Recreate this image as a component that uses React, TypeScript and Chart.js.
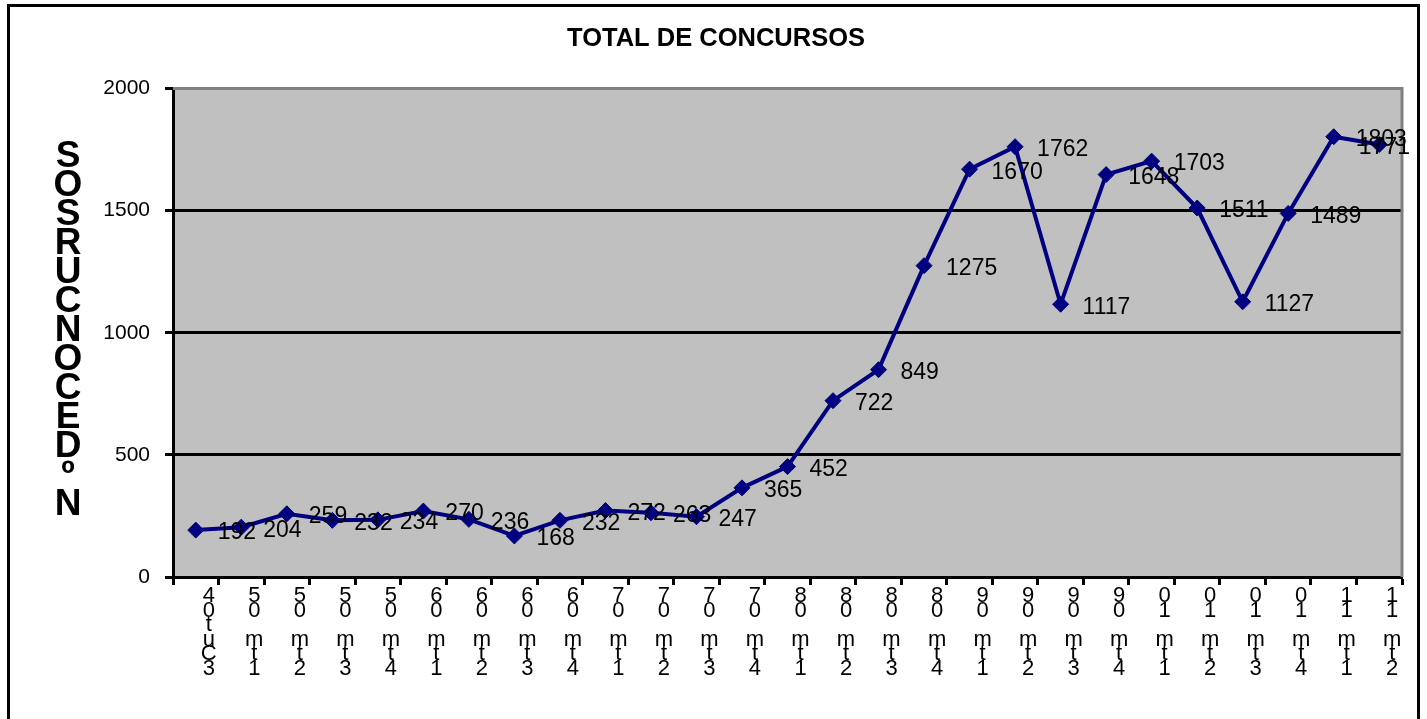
import React, { useEffect, useRef } from 'react';
import { Chart, registerables } from 'chart.js';

Chart.register(...registerables);

const chartTitle = 'TOTAL DE CONCURSOS';
const yAxisTitle = 'Nº DE CONCURSOS';

const categories: string[][] = [
  ['4', '0', 't', 'u', 'C', '3'],
  ['5', '0', '', 'm', 't', '1'],
  ['5', '0', '', 'm', 't', '2'],
  ['5', '0', '', 'm', 't', '3'],
  ['5', '0', '', 'm', 't', '4'],
  ['6', '0', '', 'm', 't', '1'],
  ['6', '0', '', 'm', 't', '2'],
  ['6', '0', '', 'm', 't', '3'],
  ['6', '0', '', 'm', 't', '4'],
  ['7', '0', '', 'm', 't', '1'],
  ['7', '0', '', 'm', 't', '2'],
  ['7', '0', '', 'm', 't', '3'],
  ['7', '0', '', 'm', 't', '4'],
  ['8', '0', '', 'm', 't', '1'],
  ['8', '0', '', 'm', 't', '2'],
  ['8', '0', '', 'm', 't', '3'],
  ['8', '0', '', 'm', 't', '4'],
  ['9', '0', '', 'm', 't', '1'],
  ['9', '0', '', 'm', 't', '2'],
  ['9', '0', '', 'm', 't', '3'],
  ['9', '0', '', 'm', 't', '4'],
  ['0', '1', '', 'm', 't', '1'],
  ['0', '1', '', 'm', 't', '2'],
  ['0', '1', '', 'm', 't', '3'],
  ['0', '1', '', 'm', 't', '4'],
  ['1', '1', '', 'm', 't', '1'],
  ['1', '1', '', 'm', 't', '2'],
];

const concursos: number[] = [
  192, 204, 259, 232, 234, 270, 236, 168, 232, 272, 263, 247, 365, 452,
  722, 849, 1275, 1670, 1762, 1117, 1648, 1703, 1511, 1127, 1489, 1803, 1771,
];

const yMin = 0;
const yMax = 2000;
const yStep = 500;

const FONT = '"Liberation Sans", Arial, sans-serif';

const plotBgPlugin = {
  id: 'plotBg',
  beforeDraw(chart: any) {
    const { ctx, chartArea: a } = chart;
    ctx.save();
    ctx.fillStyle = '#C0C0C0';
    ctx.fillRect(a.left, a.top, a.right - a.left, a.bottom - a.top);
    ctx.restore();
  },
  beforeDatasetsDraw(chart: any) {
    const { ctx, chartArea: a } = chart;
    ctx.save();
    ctx.strokeStyle = '#808080';
    ctx.lineWidth = 3;
    ctx.beginPath();
    ctx.moveTo(a.left, a.top);
    ctx.lineTo(a.right, a.top);
    ctx.lineTo(a.right, a.bottom);
    ctx.stroke();
    ctx.restore();
  },
};

const yTitlePlugin = {
  id: 'yTitleStacked',
  afterDraw(chart: any) {
    const { ctx, chartArea: a } = chart;
    const letters = yAxisTitle.replace(/ /g, '').split('');
    const spacing = 29;
    const cx = a.left - 105;
    const cy = (a.top + a.bottom) / 2 - 2;
    const n = letters.length;
    ctx.save();
    ctx.fillStyle = '#000';
    ctx.font = `bold 37px ${FONT}`;
    ctx.textAlign = 'center';
    ctx.textBaseline = 'middle';
    // reading bottom to top
    letters.forEach((ch, i) => {
      const y = cy + ((n - 1) / 2 - i) * spacing;
      ctx.fillText(ch, cx, y);
    });
    ctx.restore();
  },
};

const dataLabelPlugin = {
  id: 'dataLabels',
  afterDatasetsDraw(chart: any) {
    const { ctx, chartArea: a } = chart;
    const meta = chart.getDatasetMeta(0);
    const data = chart.data.datasets[0].data as number[];
    ctx.save();
    ctx.fillStyle = '#000';
    ctx.font = `23px ${FONT}`;
    ctx.textAlign = 'left';
    ctx.textBaseline = 'middle';
    meta.data.forEach((pt: any, i: number) => {
      const txt = String(data[i]);
      const w = ctx.measureText(txt).width;
      let x = pt.x + 22;
      if (x + w > a.right + 8) x = a.right + 8 - w;
      ctx.fillText(txt, x, pt.y + 3);
    });
    ctx.restore();
  },
};

export default function App() {
  const ref = useRef<HTMLCanvasElement | null>(null);

  useEffect(() => {
    if (!ref.current) return;
    const chart = new Chart(ref.current, {
      type: 'line',
      data: {
        labels: categories,
        datasets: [
          {
            data: concursos,
            borderColor: '#000080',
            backgroundColor: '#000080',
            borderWidth: 4,
            tension: 0,
            pointStyle: 'rectRot',
            pointRadius: 8,
            pointBackgroundColor: '#000080',
            pointBorderColor: '#000080',
            pointBorderWidth: 1,
            clip: false as any,
          },
        ],
      },
      options: {
        animation: false,
        responsive: false,
        layout: { padding: { left: 20, right: 15, top: 0, bottom: 0 } },
        plugins: {
          legend: { display: false },
          tooltip: { enabled: false },
          title: {
            display: true,
            text: chartTitle,
            color: '#000',
            font: { family: FONT, size: 25.5, weight: 'bold', lineHeight: 1.2 },
            padding: { top: 17, bottom: 34 },
          },
        },
        scales: {
          x: {
            type: 'category',
            offset: true,
            grid: {
              display: true,
              offset: true,
              drawOnChartArea: false,
              drawTicks: true,
              tickLength: 8,
              tickWidth: 3,
              tickColor: '#000',
              color: '#000',
            },
            border: { display: true, color: '#000', width: 3 },
            ticks: {
              color: '#000',
              font: { family: FONT, size: 22, lineHeight: 0.66 },
              padding: 4,
              labelOffset: 13,
              maxRotation: 0,
              minRotation: 0,
              autoSkip: false,
            },
            afterFit(scale: any) {
              scale.height = 142;
            },
          },
          y: {
            min: yMin,
            max: yMax,
            grid: {
              color: (c: any) =>
                c.tick && (c.tick.value === yMin || c.tick.value === yMax) ? 'rgba(0,0,0,0)' : '#000',
              lineWidth: 3,
              tickColor: '#000',
              tickLength: 8,
              tickWidth: 3,
            },
            border: { display: true, color: '#000', width: 3 },
            ticks: {
              stepSize: yStep,
              color: '#000',
              font: { family: FONT, size: 21 },
              padding: 15,
              callback: (v: any) => String(v),
            },
            afterFit(scale: any) {
              scale.width = 143;
            },
          },
        },
      },
      plugins: [plotBgPlugin, dataLabelPlugin, yTitlePlugin],
    });
    return () => chart.destroy();
  }, []);

  return (
    <div style={{ position: 'fixed', left: 0, top: 0, width: 1427, height: 719, background: '#fff', overflow: 'hidden' }}>
      <div
        style={{
          position: 'absolute',
          left: 7,
          top: 4,
          width: 1413,
          height: 800,
          border: '3px solid #000',
          boxSizing: 'border-box',
        }}
      >
        <canvas ref={ref} width={1407} height={712} style={{ position: 'absolute', left: 0, top: 0, width: 1407, height: 712 }} />
      </div>
    </div>
  );
}
